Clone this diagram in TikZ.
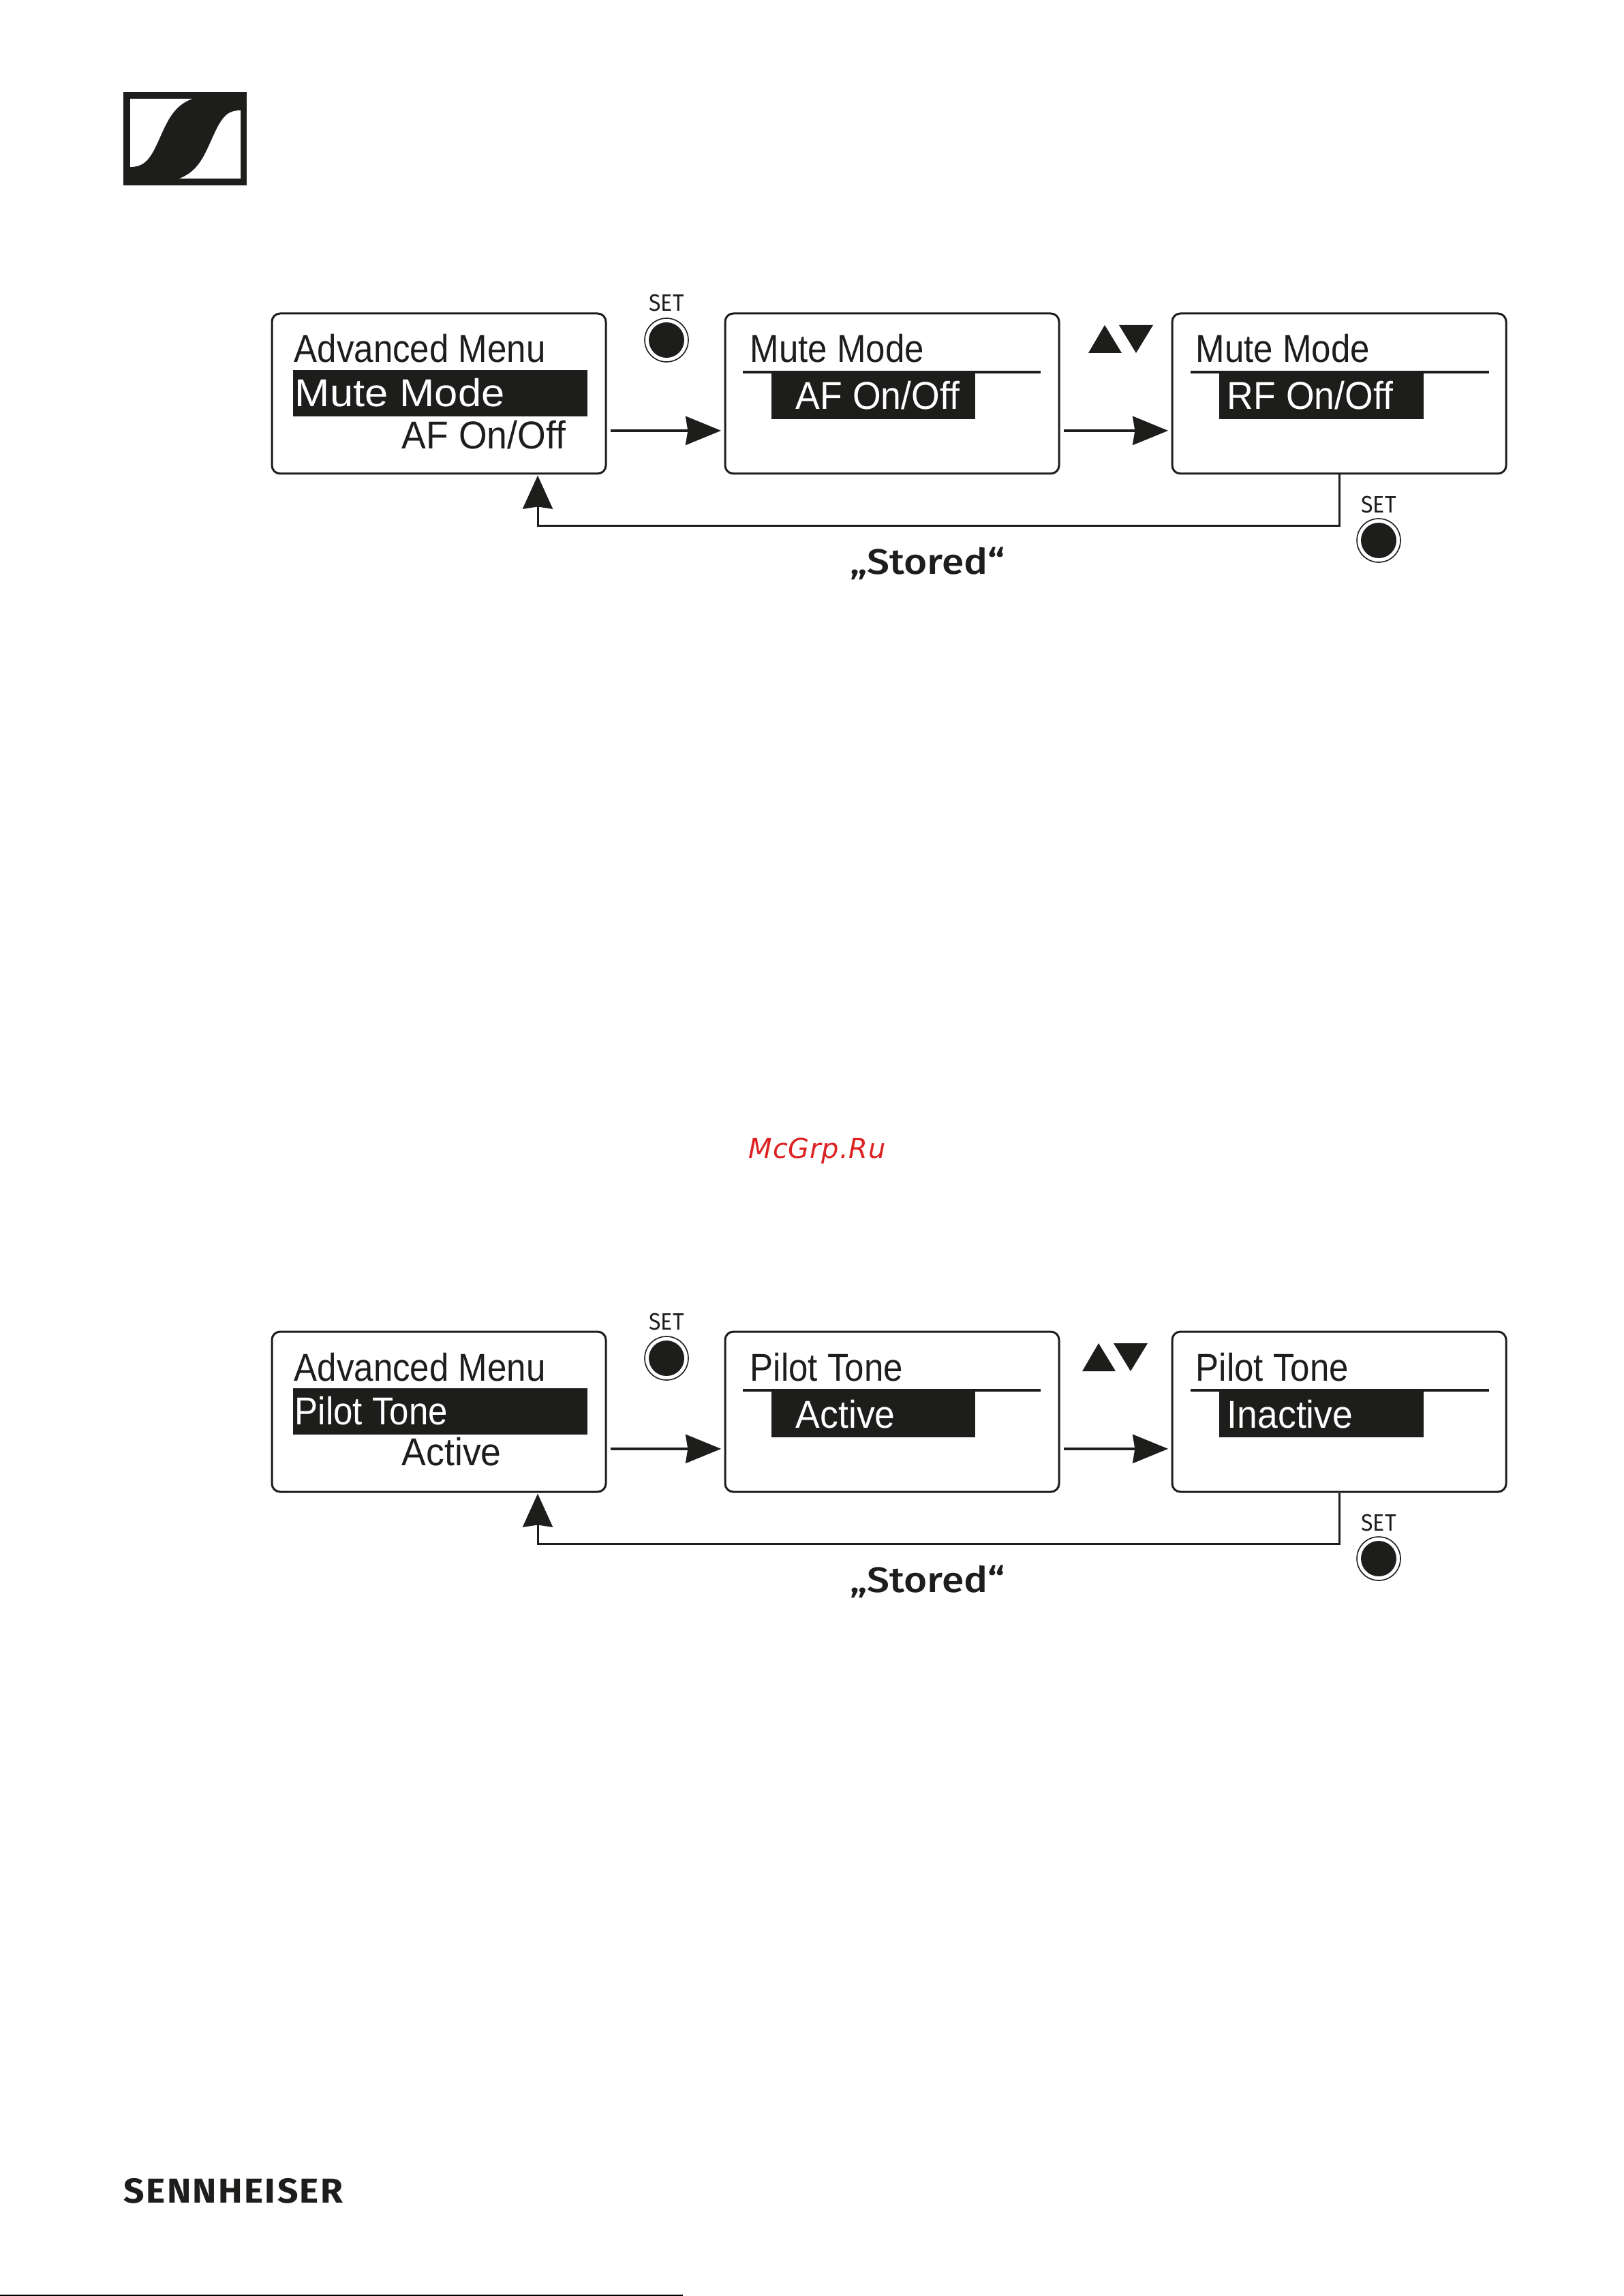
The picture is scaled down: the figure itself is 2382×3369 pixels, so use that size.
\documentclass[tikz,border=0pt]{standalone}
\usepackage{fontspec}
\usetikzlibrary{arrows.meta}
\usetikzlibrary{shapes.geometric}
\newfontfamily\lcdfont[FakeStretch=0.895]{Liberation Sans}
\newfontfamily\lcdvalfont[FakeStretch=0.94]{Liberation Sans}
\newfontfamily\lcdwidefont[FakeStretch=1.08]{Liberation Sans}
\newfontfamily\btnfont[FakeStretch=0.92]{Fira Sans}
\newfontfamily\storedfont[FakeStretch=1.13]{Fira Sans Medium}
\newfontfamily\brandfont[FakeStretch=1.05,LetterSpace=4.7]{Fira Sans}
\newfontfamily\wmfont[LetterSpace=2]{DejaVu Sans}
\definecolor{ink}{HTML}{1D1D1B}
\definecolor{wmred}{HTML}{DD2222}
\tikzset{
	menubox/.style={draw=ink,line width=.75pt,rounded corners=3pt,minimum width=122.5pt,minimum height=58.75pt,inner sep=0pt},
	lcd/.style={anchor=base west,inner sep=0pt,text=ink,font=\lcdfont\fontsize{14.25}{14.25}\selectfont},
	lcdval/.style={lcd,font=\lcdvalfont\fontsize{14.25}{14.25}\selectfont},
	lcdinv/.style={lcd,text=white},
	lcdvalinv/.style={lcdval,text=white},
	lcdwideinv/.style={lcdinv,font=\lcdwidefont\fontsize{14.25}{14.25}\selectfont},
	rule/.style={line width=1pt,draw=ink},
	btnlabel/.style={anchor=base,inner sep=0pt,text=ink,font=\btnfont\fontsize{8.7}{8.7}\selectfont},
	btn/.style={circle,draw=ink,line width=.4pt,fill=white,minimum size=16pt,inner sep=0pt,path picture={\fill[ink] (path picture bounding box.center) circle (6.5pt);}},
	stored/.style={anchor=base,inner sep=0pt,text=ink,font=\storedfont\fontsize{13}{13}\selectfont},
	go/.style={draw=ink,line width=1pt,-{Stealth[length=13pt,width=10.5pt,inset=.8pt]},shorten <=1.25pt,shorten >=1.1pt},
	back/.style={draw=ink,line width=.75pt,-{Stealth[length=12.25pt,width=11pt,inset=.8pt]},shorten >=.3pt},
}
\begin{document}
\begin{tikzpicture}[x=.25pt,y=-.25pt]
	\useasboundingbox (0,0) rectangle (2382,3369);
	\fill[ink] (181,135) rectangle (362,272);
	\fill[white] (191,145) -- (282,145) .. controls (252,156) and (244,182) .. (230,212) .. controls (218,238) and (208,245) .. (191,245) -- cycle;
	\fill[white] (353,162) -- (353,262) -- (263,262) .. controls (293,251) and (301,225) .. (315,195) .. controls (327,169) and (336,162) .. (353,162) -- cycle;

	\node[menubox] (advA) at (644,577.5) {};
	\node[menubox] (muteA) at (1309,577.5) {};
	\node[menubox] (rfA) at (1965,577.5) {};
	\fill[ink] (430,543) rectangle (862,611);
	\fill[ink] (1132,546) rectangle (1431,615);
	\fill[ink] (1789,546) rectangle (2089,615);
	\draw[rule] (1090,546) -- (1527,546);
	\draw[rule] (1747,546) -- (2185,546);
	\node[lcd] (advHeadA) at (431,532) {Advanced Menu};
	\node[lcdwideinv] (advSelA) at (432,597) {Mute Mode};
	\node[lcdval] (advValA) at (589,658) {AF On/Off};
	\node[lcd] (muteHeadA) at (1100,532) {Mute Mode};
	\node[lcdvalinv] (muteValA) at (1167,601) {AF On/Off};
	\node[lcd] (rfHeadA) at (1754,532) {Mute Mode};
	\node[lcdvalinv] (rfValA) at (1800,601) {RF On/Off};
	\draw[go] ([yshift=-13.6pt]advA.east) -- ([yshift=-13.6pt]muteA.west);
	\draw[go] ([yshift=-13.6pt]muteA.east) -- ([yshift=-13.6pt]rfA.west);
	\coordinate (loopA) at (789,771);
	\draw[back] (rfA.south) |- (loopA) -- (loopA |- advA.south);
	\node[btnlabel] (setA) at (978,457) {SET};
	\node[btn] (btnA) at (978,499) {};
	\node[btnlabel] (setB) at (2023,752) {SET};
	\node[btn] (btnB) at (2023,793) {};
	\fill[ink] (1597,518) -- (1621,477) -- (1646,518) -- cycle;
	\fill[ink] (1642,477) -- (1692,477) -- (1667,518) -- cycle;
	\node[stored] (storedA) at (1361,842) {„Stored“};

	\node[anchor=base west,inner sep=0pt,text=wmred,font=\wmfont\itshape\fontsize{10}{10}\selectfont] (mark) at (1098,1699) {McGrp.Ru};

	\node[menubox] (advC) at (644,2071.5) {};
	\node[menubox] (toneC) at (1309,2071.5) {};
	\node[menubox] (inC) at (1965,2071.5) {};
	\fill[ink] (430,2037) rectangle (862,2105);
	\fill[ink] (1132,2040) rectangle (1431,2109);
	\fill[ink] (1789,2040) rectangle (2089,2109);
	\draw[rule] (1090,2040) -- (1527,2040);
	\draw[rule] (1747,2040) -- (2185,2040);
	\node[lcd] (advHeadC) at (431,2026) {Advanced Menu};
	\node[lcdinv] (advSelC) at (432,2090) {Pilot Tone};
	\node[lcdval] (advValC) at (589,2150) {Active};
	\node[lcd] (toneHeadC) at (1100,2026) {Pilot Tone};
	\node[lcdvalinv] (toneValC) at (1167,2095) {Active};
	\node[lcd] (inHeadC) at (1754,2026) {Pilot Tone};
	\node[lcdvalinv] (inValC) at (1800,2095) {Inactive};
	\draw[go] ([yshift=-13.6pt]advC.east) -- ([yshift=-13.6pt]toneC.west);
	\draw[go] ([yshift=-13.6pt]toneC.east) -- ([yshift=-13.6pt]inC.west);
	\coordinate (loopC) at (789,2265);
	\draw[back] (inC.south) |- (loopC) -- (loopC |- advC.south);
	\node[btnlabel] (setC) at (978,1951) {SET};
	\node[btn] (btnC) at (978,1993) {};
	\node[btnlabel] (setD) at (2023,2246) {SET};
	\node[btn] (btnD) at (2023,2287) {};
	\fill[ink] (1588,2012) -- (1612,1971) -- (1637,2012) -- cycle;
	\fill[ink] (1634,1971) -- (1684,1971) -- (1659,2012) -- cycle;
	\node[stored] (storedC) at (1361,2336) {„Stored“};

	\node[anchor=base west,inner sep=0pt,text=ink,font=\brandfont\bfseries\fontsize{12.7}{12.7}\selectfont] (brand) at (181,3232) {SENNHEISER};
	\draw[black,line width=.5pt] (0,3368) -- (1002,3368);
\end{tikzpicture}
\end{document}
